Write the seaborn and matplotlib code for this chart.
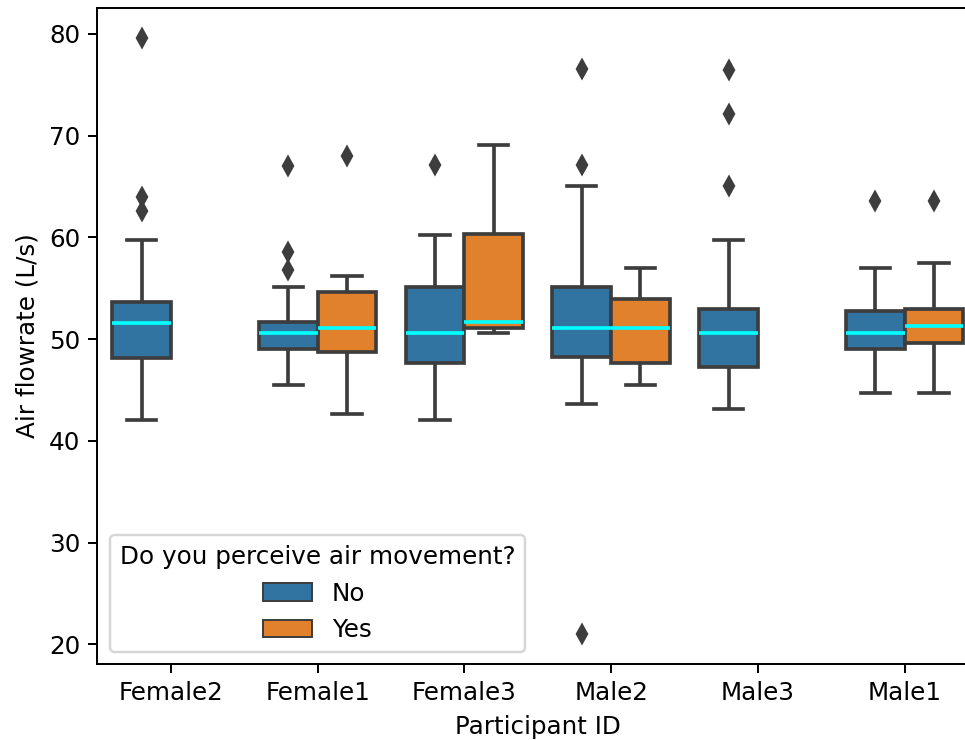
import numpy as np
import pandas as pd
import matplotlib
matplotlib.use("Agg")
import matplotlib.pyplot as plt
import seaborn as sns

# Box statistics (L/s)
participants = ["Female2", "Female1", "Female3", "Male2", "Male3", "Male1"]
answers = ["No", "Yes"]

# one entry per box: (participant, answer)
box_participant = ["Female2", "Female1", "Female1", "Female3", "Female3",
                   "Male2", "Male2", "Male3", "Male1", "Male1"]
box_answer = ["No", "No", "Yes", "No", "Yes", "No", "Yes", "No", "No", "Yes"]
whisker_low = [42.0, 45.5, 42.6, 42.0, 50.6, 43.6, 45.5, 43.1, 44.7, 44.7]
quartile_1 = [48.1, 49.0, 48.7, 47.6, 51.1, 48.2, 47.6, 47.3, 49.05, 49.6]
medians = [51.6, 50.6, 51.05, 50.6, 51.65, 51.05, 51.05, 50.6, 50.6, 51.25]
quartile_3 = [53.6, 51.65, 54.6, 55.1, 60.3, 55.1, 53.9, 53.0, 52.8, 53.0]
whisker_high = [59.7, 55.1, 56.2, 60.2, 69.1, 65.0, 57.0, 59.7, 57.0, 57.5]
outliers = [[62.6, 64.0, 79.6], [56.8, 58.6, 67.0], [68.0], [67.1], [],
            [21.0, 67.1, 76.5], [], [65.0, 72.1, 76.4], [63.6], [63.6]]

# Build sample observations that reproduce these box statistics
rows = []
for i in range(len(box_participant)):
    obs = ([whisker_low[i]] + [quartile_1[i]] * 10 + [medians[i]] * 10
           + [quartile_3[i]] * 10 + [whisker_high[i]] + list(outliers[i]))
    for v in obs:
        rows.append({"Participant ID": box_participant[i],
                     "Do you perceive air movement?": box_answer[i],
                     "Air flowrate (L/s)": v})
df = pd.DataFrame(rows)

W, H, DPI = 966, 740, 177
fig = plt.figure(figsize=(W / DPI, H / DPI), dpi=DPI)
ax = fig.add_axes([97.5 / W, 76 / H, 880.5 / W, 656 / H])

line_col = "#3d3d3d"
sns.boxplot(data=df, x="Participant ID", y="Air flowrate (L/s)",
            hue="Do you perceive air movement?",
            order=participants, hue_order=answers,
            palette=["#1f77b4", "#ff7f0e"], saturation=0.75,
            linecolor=line_col, linewidth=1.5, fliersize=5,
            medianprops={"color": "cyan"},
            flierprops={"marker": "d", "markerfacecolor": line_col,
                        "markeredgecolor": line_col},
            ax=ax)

sns.move_legend(ax, "lower left", title="Do you perceive air movement?")
leg = ax.get_legend()
for h in leg.legend_handles:
    h.set_linewidth(0.8)

fig.savefig("out.png", dpi=DPI)
